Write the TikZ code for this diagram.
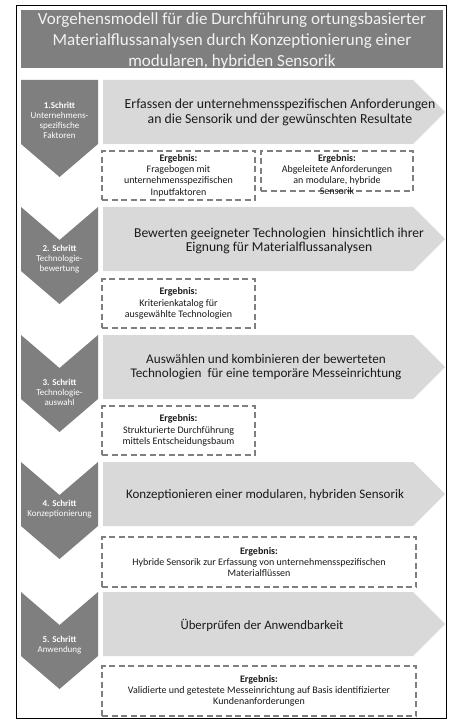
\documentclass[tikz,border=0pt]{standalone}
\usepackage{fontspec}
\setmainfont{Carlito}
\definecolor{darkg}{HTML}{7F7F7F}
\definecolor{lightg}{HTML}{D9D9D9}
\definecolor{dashg}{HTML}{7F7F7F}
\definecolor{txt}{HTML}{1A1A1A}
\definecolor{titletxt}{HTML}{F2F2F2}
\begin{document}
\begin{tikzpicture}[x=1pt,y=-1pt,
  titlebox/.style={fill=darkg},
  titletext/.style={text=titletxt,font=\fontsize{17}{21}\selectfont,align=center,inner sep=0pt},
  arrowshape/.style={fill=lightg},
  chevshape/.style={fill=darkg},
  arrowtext/.style={text=txt,align=center,inner sep=0pt},
  chevtext/.style={text=white,font=\fontsize{9}{10}\selectfont,align=center,inner sep=0pt},
  resbox/.style={draw=dashg,line width=1.2pt,dash pattern=on 6pt off 3.5pt,inner sep=0pt,outer sep=0pt},
  restext/.style={align=center,text=txt,font=\fontsize{10}{11.3}\selectfont,inner sep=0pt}]
\useasboundingbox (0,0) rectangle (452,719);
\fill[white] (0,0) rectangle (452,719);
% outer frame
\draw[black,line width=1pt] (16,6) rectangle (446,718);
% title
\fill[titlebox] (21,10) rectangle (443,68);
\node[titletext] (title) at (232,41) {Vorgehensmodell für die Durchführung ortungsbasierter\\Materialflussanalysen durch Konzeptionierung einer\\modularen, hybriden Sensorik};
% arrows
\foreach \T in {80,207,335,462,592}{
  \fill[arrowshape] (103,\T) -- (413,\T) -- (445,\T+32) -- (413,\T+64) -- (103,\T+64) -- cycle;
}
% chevrons
\fill[chevshape] (21,80) -- (98,80) -- (98,144) -- (59.5,177) -- (21,144) -- cycle;
\foreach \T in {207,335,462,592}{
  \fill[chevshape] (21,\T) -- (59.5,\T+33) -- (98,\T) -- (98,\T+64) -- (59.5,\T+97) -- (21,\T+64) -- cycle;
}
% arrow texts
\node[arrowtext,font=\fontsize{13.8}{14.5}\selectfont] (a1) at (280,112.5) {Erfassen der unternehmensspezifischen Anforderungen\\an die Sensorik und der gewünschten Resultate};
\node[arrowtext,font=\fontsize{13.6}{14.5}\selectfont] (a2) at (279,241) {Bewerten geeigneter Technologien\ \ hinsichtlich ihrer\\Eignung für Materialflussanalysen};
\node[arrowtext,font=\fontsize{13.2}{14.2}\selectfont] (a3) at (266,367) {Auswählen und kombinieren der bewerteten\\Technologien\ \ für eine temporäre Messeinrichtung};
\node[arrowtext,font=\fontsize{13}{14}\selectfont] (a4) at (265,495) {Konzeptionieren einer modularen, hybriden Sensorik};
\node[arrowtext,font=\fontsize{12.8}{14}\selectfont] (a5) at (262,625) {Überprüfen der Anwendbarkeit};
% chevron texts
\node[chevtext] (c1) at (59.5,120) {\textbf{1.Schritt}\\Unternehmens-\\spezifische\\Faktoren};
\node[chevtext] (c2) at (59.5,259) {\textbf{2. Schritt}\\Technologie-\\bewertung};
\node[chevtext] (c3) at (59.5,392) {\textbf{3. Schritt}\\Technologie-\\auswahl};
\node[chevtext] (c4) at (59.5,509) {\textbf{4. Schritt}\\Konzeptionierung};
\node[chevtext] (c5) at (59.5,645.5) {\textbf{5. Schritt}\\Anwendung};
% result boxes
\node[resbox,minimum width=153pt,minimum height=49pt] (r1a) at (178.5,175.5) {};
\node[restext] (t1a) at (r1a.center) {\textbf{Ergebnis:}\\Fragebogen mit\\unternehmensspezifischen\\Inputfaktoren};
\node[resbox,minimum width=152pt,minimum height=40pt] (r1b) at (337,171) {};
\node[restext] (t1b) at (337,174.5) {\textbf{Ergebnis:}\\Abgeleitete Anforderungen\\an modulare, hybride\\Sensorik};
\node[resbox,minimum width=153pt,minimum height=49pt] (r2) at (178.5,303.5) {};
\node[restext] (t2) at (r2.center) {\textbf{Ergebnis:}\\Kriterienkatalog für\\ausgewählte Technologien};
\node[resbox,minimum width=153pt,minimum height=49pt] (r3) at (178.5,430.5) {};
\node[restext] (t3) at (r3.center) {\textbf{Ergebnis:}\\Strukturierte Durchführung\\mittels Entscheidungsbaum};
\node[resbox,minimum width=314pt,minimum height=50pt] (r4) at (259,562) {};
\node[restext] (t4) at (r4.center) {\textbf{Ergebnis:}\\Hybride Sensorik zur Erfassung von unternehmensspezifischen\\Materialflüssen};
\node[resbox,minimum width=314pt,minimum height=50pt] (r5) at (259,691) {};
\node[restext] (t5) at (r5.center) {\textbf{Ergebnis:}\\Validierte und getestete Messeinrichtung auf Basis identifizierter\\Kundenanforderungen};
\end{tikzpicture}
\end{document}
